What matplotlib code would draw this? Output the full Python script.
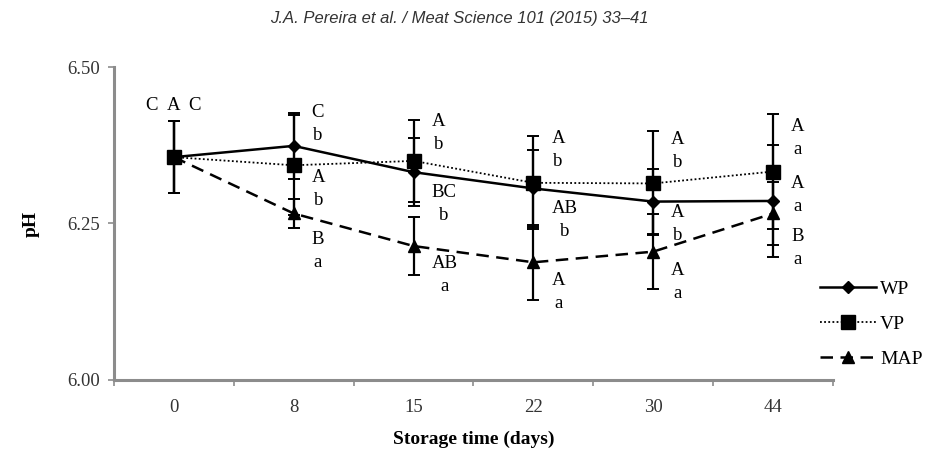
import matplotlib
matplotlib.use("Agg")
import matplotlib.pyplot as plt
from matplotlib.lines import Line2D
import numpy as np

# ---------------- data ----------------
days = ["0", "8", "15", "22", "30", "44"]
wp = [6.356, 6.374, 6.332, 6.306, 6.285, 6.286]
vp = [6.356, 6.343, 6.350, 6.315, 6.314, 6.333]
map_ = [6.356, 6.266, 6.214, 6.188, 6.205, 6.266]
wp_err = [0.058, 0.053, 0.054, 0.062, 0.052, 0.089]
vp_err = [0.058, 0.080, 0.065, 0.074, 0.083, 0.092]
map_err = [0.058, 0.023, 0.047, 0.060, 0.060, 0.050]

# significance letters (day 0 shown as one combined label)
day0_label = "C  A  C"
wp_letters = ["", "C\nb", "BC\nb", "AB\nb", "A\nb", "A\na"]
vp_letters = ["", "A\nb", "A\nb", "A\nb", "A\nb", "A\na"]
map_letters = ["", "B\na", "AB\na", "A\na", "A\na", "B\na"]

# ---------------- layout ----------------
# vertical anchor (pH units) of each letter label
wp_lab_y = [None, 6.409, 6.281, 6.255, 6.249, 6.296]
vp_lab_y = [None, 6.305, 6.395, 6.368, 6.366, 6.386]
map_lab_y = [None, 6.206, 6.168, 6.141, 6.157, 6.211]
day0_lab_y = 6.439

plt.rcParams["font.family"] = ["Liberation Serif", "DejaVu Serif"]

fig = plt.figure(figsize=(9.25, 4.5), dpi=100)
ax = fig.add_axes([0.1232, 0.1556, 0.7773, 0.6955])

x = np.arange(len(days))
gray = "#8c8c8c"

ax.errorbar(x, wp, yerr=wp_err, color="black", lw=1.8, ls="-",
            marker="D", ms=6, capsize=4.5, elinewidth=1.6, capthick=1.4,
            label="WP", zorder=4)
ax.errorbar(x, vp, yerr=vp_err, color="black", lw=1.3, ls=(0, (1, 1.3)),
            marker="s", ms=10, capsize=4.5, elinewidth=1.6, capthick=1.4,
            label="VP", zorder=3)
ax.errorbar(x, map_, yerr=map_err, color="black", lw=1.8, ls=(0, (5, 3)),
            marker="^", ms=8, capsize=4.5, elinewidth=1.6, capthick=1.4,
            label="MAP", zorder=3)

ax.set_xlim(-0.5, len(days) - 0.5)
ax.set_ylim(6.0, 6.5)
ax.set_yticks([6.0, 6.25, 6.5])
ax.set_yticklabels(["6.00", "6.25", "6.50"])
ax.set_xticks(x)
ax.set_xticklabels(days)
ax.set_xticks(np.arange(-0.5, len(days)), minor=True)
ax.tick_params(axis="x", which="major", length=0, pad=14, labelsize=13.5,
               labelcolor="#333333")
ax.tick_params(axis="x", which="minor", length=4, width=1.2, color=gray,
               direction="out")
ax.tick_params(axis="y", length=4, width=1.2, color=gray, labelsize=13.5,
               labelcolor="#333333", pad=6)

for s in ["top", "right"]:
    ax.spines[s].set_visible(False)
for s in ["left", "bottom"]:
    ax.spines[s].set_color(gray)
    ax.spines[s].set_linewidth(2.2)

# letter annotations
tfs = 13.5
ax.text(0, day0_lab_y, day0_label, ha="center", va="center", fontsize=tfs)
for letters, ys in [(wp_letters, wp_lab_y), (vp_letters, vp_lab_y),
                    (map_letters, map_lab_y)]:
    for i, (t, yy) in enumerate(zip(letters, ys)):
        if t:
            ax.text(i + 0.15, yy, t, ha="left", va="center",
                    multialignment="center", fontsize=tfs, linespacing=1.45)

ax.set_xlabel("Storage time (days)", fontsize=14, fontweight="bold",
              labelpad=10)
ax.set_ylabel("pH", fontsize=14, fontweight="bold", labelpad=20)

handles = [
    Line2D([], [], color="black", lw=1.8, ls="-", marker="D", ms=6),
    Line2D([], [], color="black", lw=1.3, ls=(0, (1, 1.3)), marker="s", ms=10),
    Line2D([], [], color="black", lw=1.8, ls=(0, (5, 3)), marker="^", ms=8),
]
fig.legend(handles, ["WP", "VP", "MAP"], loc="center left",
           bbox_to_anchor=(0.880, 0.28), frameon=False, fontsize=14,
           handlelength=2.9, handletextpad=0.2, labelspacing=0.9,
           numpoints=1, borderaxespad=0, borderpad=0.3)

fig.text(0.497, 0.958, "J.A. Pereira et al. / Meat Science 101 (2015) 33\u201341",
         ha="center", va="center", fontsize=12, style="italic",
         family=["Liberation Sans Narrow", "Liberation Sans", "DejaVu Sans"],
         color="#333333")

fig.savefig("out.png", dpi=100)
